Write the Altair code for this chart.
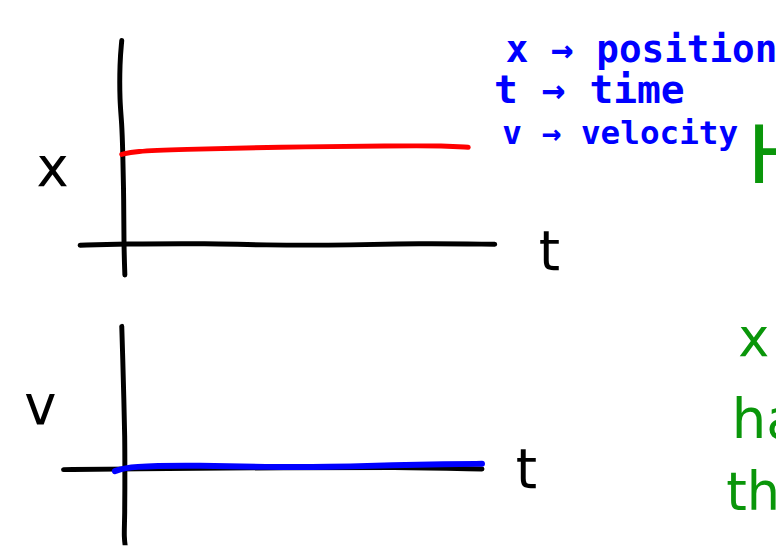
import altair as alt
import pandas as pd

# ---- top panel: position x against time t ----
top_vaxis_t = [-0.03, -0.09, -0.09, -0.03, 0.0, 0.03, 0.03, 0.06]
top_vaxis_x = [6.61, 5.90, 4.61, 3.97, 3.00, 1.39, 0.00, -1.03]
top_haxis_t = [-1.24, -0.11, 2.61, 3.91, 6.78, 8.51, 10.80]
top_haxis_x = [-0.06, -0.02, 0.00, -0.06, -0.06, 0.00, -0.03]
red_t = [-0.03, 0.32, 1.61, 4.48, 7.93, 9.37, 10.03]
red_x = [2.90, 3.00, 3.06, 3.14, 3.18, 3.18, 3.13]

# ---- bottom panel: velocity v against time t ----
bot_vaxis_t = [-0.03, 0.0, 0.03, 0.06, 0.06, 0.06, 0.03, 0.09]
bot_vaxis_v = [4.65, 3.58, 2.29, 1.00, 0.00, -1.58, -2.23, -2.65]
bot_haxis_t = [-1.72, -0.11, 5.06, 7.93, 10.43]
bot_haxis_v = [-0.02, 0.00, 0.05, 0.06, 0.00]
blue_t = [-0.23, 0.17, 2.18, 4.20, 5.92, 7.93, 9.37, 10.43]
blue_v = [-0.07, 0.09, 0.12, 0.06, 0.06, 0.13, 0.16, 0.17]

# ---- annotations ----
top_labels = ["x", "t"]
top_label_t = [-2.04, 12.39]
top_label_x = [1.87, -0.87]
notes = ["x → position", "t → time", "v → velocity"]
notes_t = [11.12, 10.78, 11.02]
notes_x = [5.90, 4.58, 3.23]
notes_size = [38, 40, 33]
green_top = ["H"]
bot_labels = ["v", "t"]
bot_label_t = [-2.39, 11.72]
bot_label_v = [1.48, -0.61]
green_bot = ["x", "ha", "th"]
green_bot_t = [17.87, 17.68, 17.52]
green_bot_v = [3.68, 1.00, -1.32]
green_bot_size = [53, 55, 53]

T_DOM = [-3.333, 18.966]
X_DOM = [-1.129, 7.581]
V_DOM = [-2.484, 6.226]
GREEN = "#0a960a"


def stroke(t, y, yname, color, width=5):
    df = pd.DataFrame({"t": t, yname: y, "i": list(range(len(t)))})
    return alt.Chart(df).mark_line(
        color=color, strokeWidth=width, strokeCap="round", strokeJoin="round",
        interpolate="basis", clip=True
    ).encode(
        x=alt.X("t:Q", scale=alt.Scale(domain=T_DOM), axis=None),
        y=alt.Y(f"{yname}:Q", axis=None),
        order="i:O",
    )


def texts(t, y, yname, labels, color, size, font="DejaVu Sans", align="center", weight="normal"):
    df = pd.DataFrame({"t": t, yname: y, "label": labels})
    return alt.Chart(df).mark_text(
        color=color, fontSize=size, font=font, align=align, baseline="alphabetic",
        fontWeight=weight, clip=True
    ).encode(
        x=alt.X("t:Q", scale=alt.Scale(domain=T_DOM), axis=None),
        y=alt.Y(f"{yname}:Q", axis=None),
        text="label:N",
    )


# top panel
top_layers = [
    stroke(top_vaxis_t, top_vaxis_x, "x", "black"),
    stroke(top_haxis_t, top_haxis_x, "x", "black"),
    stroke(red_t, red_x, "x", "#ff0000"),
    texts(top_label_t, top_label_x, "x", top_labels, "black", 55),
]
for i in range(len(notes)):
    top_layers.append(
        texts([notes_t[i]], [notes_x[i]], "x", [notes[i]], "#0000ff", notes_size[i],
              font="DejaVu Sans Mono", align="left", weight="bold")
    )
top_layers.append(texts([18.13], [1.97], "x", green_top, GREEN, 81, align="left"))

top = alt.layer(*top_layers).encode(
    y=alt.Y(scale=alt.Scale(domain=X_DOM))
).properties(width=776, height=270)

# bottom panel
bot_layers = [
    stroke(bot_vaxis_t, bot_vaxis_v, "v", "black"),
    stroke(bot_haxis_t, bot_haxis_v, "v", "black"),
    stroke(blue_t, blue_v, "v", "#0000ff", 6),
    texts(bot_label_t, bot_label_v, "v", bot_labels, "black", 55),
]
for i in range(len(green_bot)):
    bot_layers.append(
        texts([green_bot_t[i]], [green_bot_v[i]], "v", [green_bot[i]], GREEN, green_bot_size[i], align="left")
    )

bottom = alt.layer(*bot_layers).encode(
    y=alt.Y(scale=alt.Scale(domain=V_DOM))
).properties(width=776, height=270)

chart = alt.vconcat(top, bottom, spacing=0).properties(padding=0).configure_view(stroke=None)

chart.save("out.html", embed_options={"renderer": "svg", "actions": False})
